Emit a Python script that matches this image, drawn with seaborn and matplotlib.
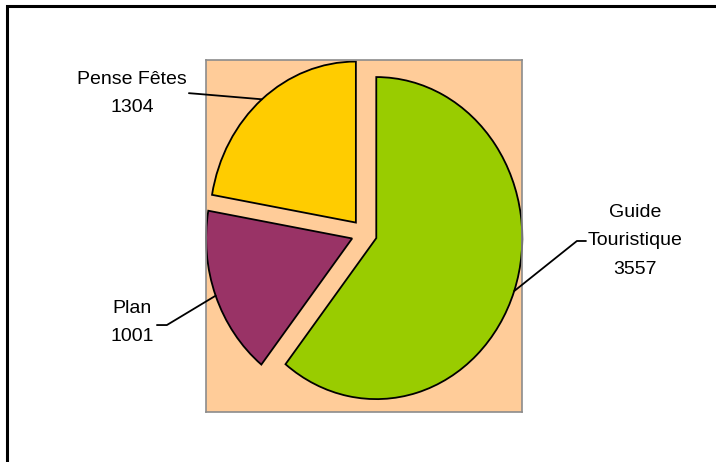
import matplotlib
matplotlib.use("Agg")
import matplotlib.pyplot as plt
from matplotlib.patches import Rectangle
import numpy as np
import seaborn as sns

# Data
categories = ["Guide\nTouristique", "Plan", "Pense Fêtes"]
values = [3557, 1001, 1304]
colors = ["#99CC00", "#993366", "#FFCC00"]

sns.set_style("white")
plt.rcParams["font.family"] = ["Liberation Sans", "DejaVu Sans"]

W, H = 716, 462
fig = plt.figure(figsize=(W / 100, H / 100), dpi=100)
fig.patch.set_facecolor("white")

# Chart frame (runs past the right and bottom edges)
fig.patches.append(Rectangle((7 / W, -0.05), 1.2, (H - 6) / H + 0.05,
                             transform=fig.transFigure, fill=False,
                             edgecolor="black", linewidth=2.2, zorder=0))

# Plot area, in pixels: x 206..522, y 60..412
ax = fig.add_axes([206 / W, (H - 412) / H, 316 / W, 352 / H])
ax.set_facecolor("#FFCC99")
for sp in ax.spines.values():
    sp.set_edgecolor("#8C8C8C")
    sp.set_linewidth(1.2)

palette = sns.color_palette(colors)
wedges, _ = ax.pie(values, colors=palette, startangle=90, counterclock=False,
                   explode=[0.088] * len(values),
                   wedgeprops=dict(edgecolor="black", linewidth=1.3),
                   frame=True)
ax.set_aspect("auto")
ax.set_xlim(-1.083, 1.081)
ax.set_ylim(-1.109, 1.077)
ax.set_xticks([])
ax.set_yticks([])

# Label placement: text centre, and the two leader points nearest the text
label_pos = [(1.854, -0.045), (-1.589, -0.553), (-1.589, 0.869)]
leader_pts = [[(1.519, -0.047), (1.457, -0.047)],
              [(-1.419, -0.569), (-1.351, -0.569)],
              [(-1.200, 0.871), (-1.145, 0.867)]]

for w, name, val, (tx, ty), pts in zip(wedges, categories, values, label_pos, leader_pts):
    mid = np.deg2rad((w.theta1 + w.theta2) / 2)
    cx, cy = w.center
    ax_pt = (cx + w.r * np.cos(mid), cy + w.r * np.sin(mid))
    xs = [pts[0][0], pts[1][0], ax_pt[0]]
    ys = [pts[0][1], pts[1][1], ax_pt[1]]
    ax.plot(xs, ys, color="black", linewidth=1.3, clip_on=False, zorder=5)
    ax.text(tx, ty, f"{name}\n{val}", ha="center", va="center",
            fontsize=14, linespacing=1.88, color="black", clip_on=False)

fig.savefig("out.png", dpi=100)
